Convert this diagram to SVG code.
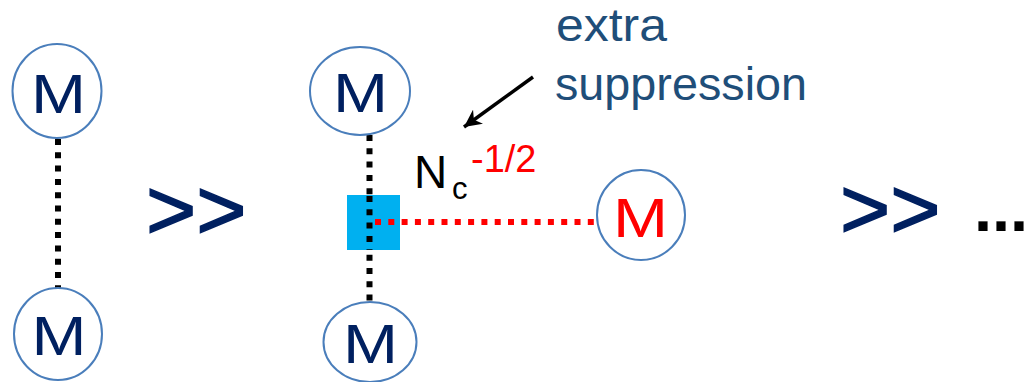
<svg xmlns="http://www.w3.org/2000/svg" width="1027" height="382" viewBox="0 0 1027 382">
<style>
.node{fill:#fff;stroke:#4a7ebb;stroke-width:2}
.m{font-family:"Liberation Sans",Arial,sans-serif;font-size:56px;fill:#002060;text-anchor:middle}
.red{fill:#ff0000}
.gt{font-family:"Liberation Sans",Arial,sans-serif;font-size:86px;fill:#002060;stroke:#002060;stroke-width:1.5}
.lbl{font-family:"Liberation Sans",Arial,sans-serif;font-size:46px;fill:#1f4e79}
.dotk{stroke:#000;stroke-width:6;stroke-dasharray:6 7.3;fill:none}
.dotr{stroke:#ff0000;stroke-width:6;stroke-dasharray:6 7.3;fill:none}
</style>
<defs>
<marker id="ah" viewBox="0 0 10 10" refX="10" refY="5" markerWidth="5" markerHeight="5" orient="auto" markerUnits="strokeWidth">
<path d="M0,0 L10,5 L0,10 L3,5 z" fill="#000"/>
</marker>
</defs>
<rect width="1027" height="382" fill="#fff"/>
<g id="connectors">
<line class="dotk" x1="58" y1="139" x2="58" y2="288"/>
<line class="dotk" x1="369.5" y1="135" x2="369.5" y2="302"/>
<rect id="vertex" x="347" y="195" width="53" height="55" fill="#00b0f0"/>
<line class="dotk" x1="369.5" y1="196" x2="369.5" y2="250"/>
<line class="dotr" x1="375" y1="222" x2="596" y2="222"/>
<line x1="533" y1="77" x2="464" y2="127" stroke="#000" stroke-width="3.5" marker-end="url(#ah)"/>
</g>
<g id="m1"><ellipse class="node" cx="57" cy="91" rx="44.5" ry="47"/><text class="m" x="58.5" y="112.5" textLength="55" lengthAdjust="spacingAndGlyphs">M</text></g>
<g id="m2"><ellipse class="node" cx="58" cy="334" rx="44" ry="46"/><text class="m" x="59" y="355" textLength="55" lengthAdjust="spacingAndGlyphs">M</text></g>
<g id="m3"><ellipse class="node" cx="360" cy="91" rx="50" ry="44"/><text class="m" x="360.5" y="112" textLength="55" lengthAdjust="spacingAndGlyphs">M</text></g>
<g id="m4"><ellipse class="node" cx="370" cy="342" rx="46.5" ry="40"/><text class="m" x="370.5" y="363" textLength="55" lengthAdjust="spacingAndGlyphs">M</text></g>
<g id="m5"><ellipse class="node" cx="641" cy="215" rx="44" ry="45"/><text class="m red" x="640.5" y="237" textLength="55" lengthAdjust="spacingAndGlyphs">M</text></g>
<g id="gt1"><text class="gt" x="146" y="239">&gt;&gt;</text></g>
<g id="gt2"><text class="gt" x="840" y="238">&gt;&gt;</text></g>
<g id="ellipsis"><text x="974" y="231" font-family="Liberation Sans,Arial,sans-serif" font-size="65" font-weight="bold" fill="#000">...</text></g>
<g id="label">
<text class="lbl" x="556" y="41" font-size="43" textLength="111" lengthAdjust="spacingAndGlyphs">extra</text>
<text class="lbl" x="555" y="100" textLength="252" lengthAdjust="spacingAndGlyphs">suppression</text>
</g>
<g id="nc">
<text font-family="Liberation Sans,Arial,sans-serif" font-size="46" fill="#000" x="414" y="188">N</text>
<text font-family="Liberation Sans,Arial,sans-serif" font-size="31" fill="#000" x="452" y="199">c</text>
<text font-family="Liberation Sans,Arial,sans-serif" font-size="38" fill="#ff0000" x="471" y="172">-1/2</text>
</g>
</svg>
